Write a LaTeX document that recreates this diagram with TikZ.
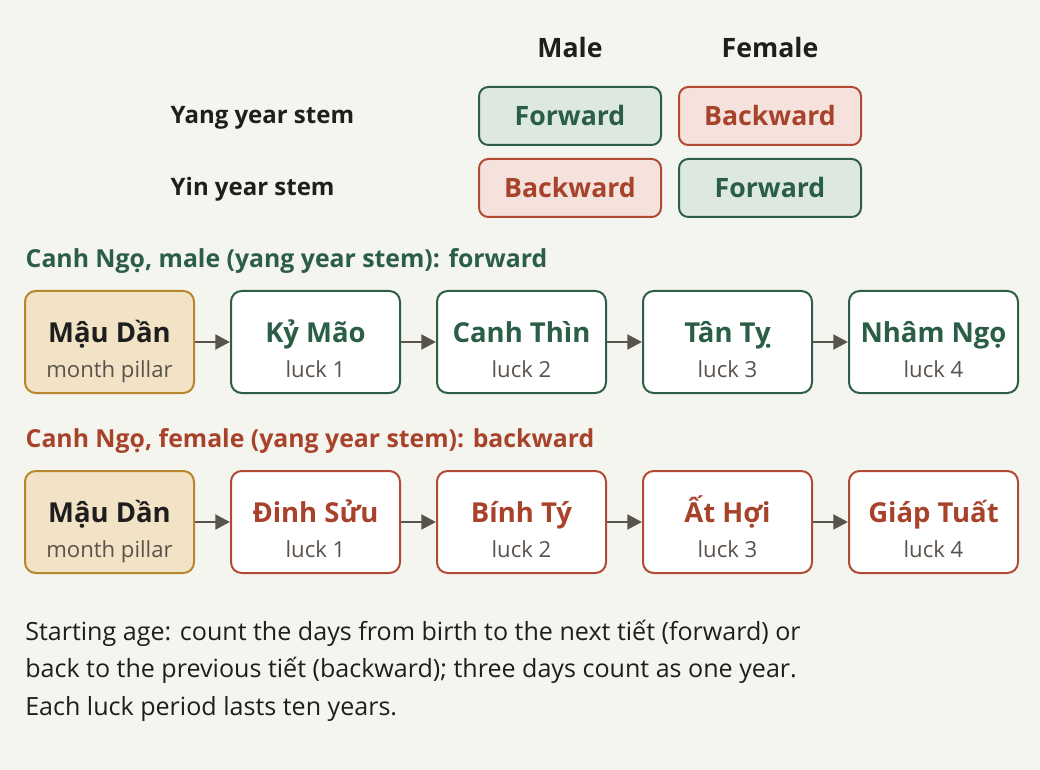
\documentclass[tikz,border=0pt]{standalone}
\usepackage{fontspec}
\setmainfont{Open Sans}
\usetikzlibrary{positioning}
\usetikzlibrary{arrows.meta}
\definecolor{paper}{HTML}{F5F5EF}
\definecolor{ink}{HTML}{1E1E1E}
\definecolor{greyink}{HTML}{5A524C}
\definecolor{fwdline}{HTML}{2E5E48}
\definecolor{fwdfill}{HTML}{DDE8E0}
\definecolor{fwdtext}{HTML}{2B5E46}
\definecolor{bkline}{HTML}{B04A33}
\definecolor{bkfill}{HTML}{F5E2DC}
\definecolor{bktext}{HTML}{A8432B}
\definecolor{pillline}{HTML}{B8862E}
\definecolor{pillfill}{HTML}{F2E3C6}
\tikzset {
  node distance={26.25pt},
  % boxes of the direction table
  choice/.style = {draw, rounded corners=7pt, line width=1.5pt, minimum width=136.5pt, minimum height=43.5pt, font=\fontsize{20}{24}\selectfont\bfseries},
  fwd/.style = {choice, draw=fwdline, fill=fwdfill, text=fwdtext},
  bkw/.style = {choice, draw=bkline, fill=bkfill, text=bktext},
  % pillar boxes in the two chains
  pillar/.style = {draw, rounded corners=8pt, line width=1.5pt, minimum width=126.75pt, minimum height=76.5pt, fill=white, font=\fontsize{20.6}{24}\selectfont\bfseries},
  month/.style = {pillar, draw=pillline, fill=pillfill, text=ink},
  fluck/.style = {pillar, draw=fwdline, text=fwdtext},
  bluck/.style = {pillar, draw=bkline, text=bktext},
  flow/.style = {draw=greyink, line width=2.2pt, -{Triangle[length=11pt, width=11pt]}},
  heading/.style = {font=\fontsize{20}{24}\selectfont\bfseries, text=ink},
  rowhead/.style = {heading, font=\fontsize{18}{22}\selectfont\bfseries, anchor=west},
  chainhead/.style = {heading, font=\fontsize{18.6}{22}\selectfont\bfseries, anchor=west},
}
% title line over a grey sub line
\newcommand{\luckbox}[2]{\raisebox{-14pt}[0pt][0pt]{\begin{tabular}{@{}c@{}}\raisebox{0pt}[15pt][5pt]{#1}\\[2.5pt]{\fontsize{16.6}{18}\selectfont\mdseries\color{greyink}#2}\end{tabular}}}
\begin{document}
\begin{tikzpicture}[x=0.75pt, y=-0.75pt]
  \fill[paper] (0,0) rectangle (1040,770);
  \useasboundingbox (0,0) rectangle (1040,770);

  % direction table
  \node[heading] (male) at (570,48) {Male};
  \node[heading] (female) at (770,48) {Female};
  \node[rowhead] (yang) at (166,118) {Yang year stem};
  \node[rowhead] (yin) at (166,189) {Yin year stem};
  \node[fwd] (yangm) at (570,116) {Forward};
  \node[bkw] (yangf) at (770,116) {Backward};
  \node[bkw] (yinm) at (570,188) {Backward};
  \node[fwd] (yinf) at (770,188) {Forward};

  % male chain
  \node[chainhead, text=fwdtext] (mtitle) at (21,261) {Canh Ngọ, male (yang year stem): forward};
  \node[month] (m0) at (109.5,342) {\luckbox{Mậu Dần}{month pillar}};
  \node[fluck] (m1) [right=of m0] {\luckbox{Kỷ Mão}{luck 1}};
  \node[fluck] (m2) [right=of m1] {\luckbox{Canh Thìn}{luck 2}};
  \node[fluck] (m3) [right=of m2] {\luckbox{Tân Tỵ}{luck 3}};
  \node[fluck] (m4) [right=of m3] {\luckbox{Nhâm Ngọ}{luck 4}};
  \draw[flow] (m0) -- (m1);
  \draw[flow] (m1) -- (m2);
  \draw[flow] (m2) -- (m3);
  \draw[flow] (m3) -- (m4);

  % female chain
  \node[chainhead, text=bktext] (ftitle) at (21,441) {Canh Ngọ, female (yang year stem): backward};
  \node[month] (f0) at (109.5,522) {\luckbox{Mậu Dần}{month pillar}};
  \node[bluck] (f1) [right=of f0] {\luckbox{Đinh Sửu}{luck 1}};
  \node[bluck] (f2) [right=of f1] {\luckbox{Bính Tý}{luck 2}};
  \node[bluck] (f3) [right=of f2] {\luckbox{Ất Hợi}{luck 3}};
  \node[bluck] (f4) [right=of f3] {\luckbox{Giáp Tuất}{luck 4}};
  \draw[flow] (f0) -- (f1);
  \draw[flow] (f1) -- (f2);
  \draw[flow] (f2) -- (f3);
  \draw[flow] (f3) -- (f4);

  % note
  \node[anchor=base west, align=left, text=ink, font=\fontsize{18.8}{28.1}\selectfont, inner sep=0pt] (note) at (25,715)
    {Starting age: count the days from birth to the next tiết (forward) or\\
     back to the previous tiết (backward); three days count as one year.\\
     Each luck period lasts ten years.};
\end{tikzpicture}
\end{document}
